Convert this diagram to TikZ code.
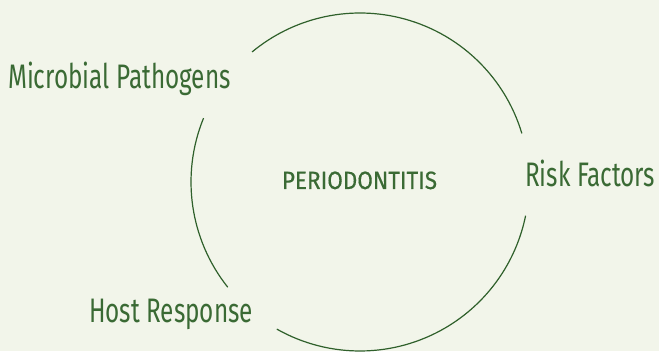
\documentclass[tikz,border=0pt]{standalone}
\usepackage{fontspec}
\setmainfont{Fira Sans}[FakeStretch=0.715]
\newfontfamily\titlefont{Fira Sans}[FakeStretch=0.9,FakeBold=0.4]
\definecolor{bgpale}{HTML}{F2F5EA}
\definecolor{leafgreen}{HTML}{3A6A34}
\definecolor{ringgreen}{HTML}{2F602B}
\begin{document}
\begin{tikzpicture}[x=1pt,y=1pt,
		lbl/.style={inner sep=0pt,text=leafgreen,font=\fontsize{34}{34}\selectfont},
		ring/.style={draw=ringgreen,line width=1.2pt}]
		\fill[bgpale] (0,0) rectangle (659,351);
		\useasboundingbox (0,0) rectangle (659,351);
		\coordinate (c) at (360,169);
		\node[lbl,anchor=base,font=\titlefont\fontsize{25}{25}\selectfont] (perio) at (359.5,162) {PERIODONTITIS};
		\node[lbl,anchor=base west] (micro) at (8,262) {Microbial Pathogens};
		\node[lbl,anchor=base west] (risk) at (525,164.3) {Risk Factors};
		\node[lbl,anchor=base west] (host) at (89,28.3) {Host Response};
		\draw[ring] ([shift={(16.7:169)}]c) arc (16.7:129.7:169);
		\draw[ring] ([shift={(157.8:169)}]c) arc (157.8:218.5:169);
		\draw[ring] ([shift={(240.5:169)}]c) arc (240.5:348.5:169);
	\end{tikzpicture}
\end{document}
